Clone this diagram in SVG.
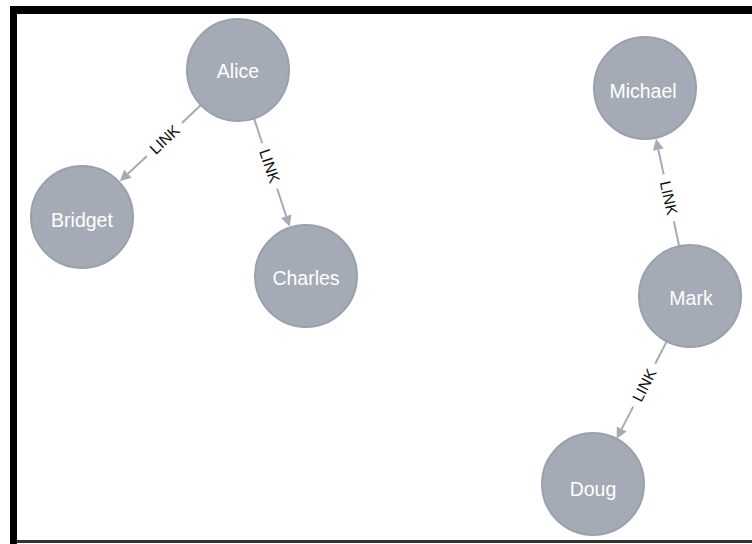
<svg xmlns="http://www.w3.org/2000/svg" width="752" height="544" viewBox="0 0 752 544">
  <style>
    .node circle { fill: #a5abb6; stroke: #9aa1ac; stroke-width: 2; }
    .node text { fill: #ffffff; font-family: "Liberation Sans", Arial, sans-serif; font-size: 19.5px; text-anchor: middle; }
    .rel line { stroke: #a5abb6; stroke-width: 2; }
    .rel polygon { fill: #a5abb6; }
    .rel text { fill: #111111; font-family: "Liberation Sans", Arial, sans-serif; font-size: 15.5px; text-anchor: middle; }
  </style>

  <!-- canvas and frame -->
  <rect x="0" y="0" width="752" height="544" fill="#ffffff"/>
  <rect x="10" y="6" width="742" height="8" fill="#000000"/>
  <rect x="10" y="6" width="7" height="538" fill="#000000"/>
  <rect x="17" y="540" width="735" height="3" fill="#333333"/>

  <!-- relationships -->
  <g id="relationships">
    <g class="rel" id="rel-alice-bridget">
      <line x1="200.9" y1="105.0" x2="181.9" y2="122.9"/>
      <line x1="146.9" y1="155.9" x2="127.9" y2="173.8"/>
      <polygon points="119.9,181.3 131.7,177.8 124.1,169.8"/>
      <text transform="translate(164.4,139.4) rotate(-43.3)" x="0" y="5.5">LINK</text>
    </g>
    <g class="rel" id="rel-alice-charles">
      <line x1="254.0" y1="118.4" x2="262.2" y2="143.2"/>
      <line x1="277.2" y1="188.8" x2="286.2" y2="216.2"/>
      <polygon points="289.7,226.6 291.4,214.5 281.0,217.9"/>
      <text transform="translate(269.7,166) rotate(71.7)" x="0" y="5.5">LINK</text>
    </g>
    <g class="rel" id="rel-mark-michael">
      <line x1="679.2" y1="246.2" x2="673.9" y2="221.4"/>
      <line x1="663.7" y1="174.4" x2="658.3" y2="149.6"/>
      <polygon points="656.0,138.8 663.7,148.4 652.9,150.8"/>
      <text transform="translate(668.8,197.9) rotate(77.8)" x="0" y="5.5">LINK</text>
    </g>
    <g class="rel" id="rel-mark-doug">
      <line x1="666.7" y1="341.4" x2="655.2" y2="363.8"/>
      <line x1="633.2" y1="406.6" x2="621.7" y2="428.9"/>
      <polygon points="616.7,438.7 626.6,431.4 616.8,426.4"/>
      <text transform="translate(644.2,385.2) rotate(-62.8)" x="0" y="5.5">LINK</text>
    </g>
  </g>

  <!-- nodes -->
  <g class="node" id="node-alice">
    <circle cx="238" cy="70" r="51"/>
    <text x="238" y="77.5">Alice</text>
  </g>
  <g class="node" id="node-bridget">
    <circle cx="82" cy="217" r="51"/>
    <text x="82" y="227">Bridget</text>
  </g>
  <g class="node" id="node-charles">
    <circle cx="306" cy="276" r="51"/>
    <text x="306" y="285">Charles</text>
  </g>
  <g class="node" id="node-michael">
    <circle cx="645" cy="88" r="51"/>
    <text x="643" y="98">Michael</text>
  </g>
  <g class="node" id="node-mark">
    <circle cx="690" cy="296" r="51"/>
    <text x="691" y="305">Mark</text>
  </g>
  <g class="node" id="node-doug">
    <circle cx="593" cy="484" r="51"/>
    <text x="593" y="496">Doug</text>
  </g>
</svg>
